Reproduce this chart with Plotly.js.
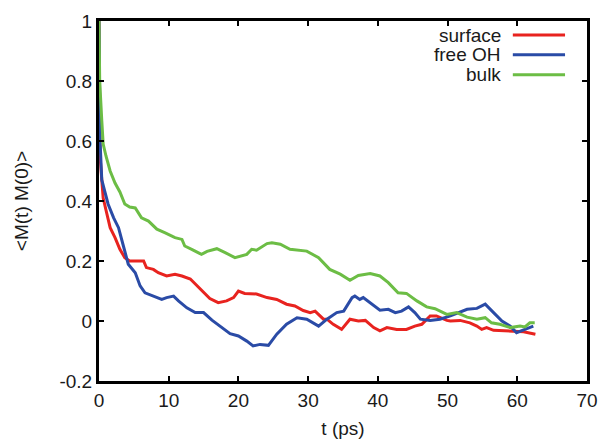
<!DOCTYPE html>
<html>
<head>
<meta charset="utf-8">
<script src="https://cdn.plot.ly/plotly-3.0.1.min.js"></script>
<style>html,body{margin:0;padding:0;background:#fff;}#chart{width:600px;height:439px;}</style>
</head>
<body>
<div id="chart"></div>
<script>
// ---- data ----
const seriesNames = ["surface", "free OH", "bulk"];
const seriesColors = ["#e8231f", "#2a4ba6", "#6cbd45"];

const tSurface = [0, 0.15, 0.4, 0.6, 1.0, 1.6, 2.3, 3.0, 3.7, 4.4, 5.4, 6.4, 6.8, 7.8, 8.5, 9.7, 10.9, 11.9, 13.1, 14.2, 15.2, 15.9, 17.1, 18.3, 19.3, 20.0, 20.9, 22.6, 24.1, 25.5, 26.9, 28.1, 29.3, 30.3, 31.0, 32.2, 32.7, 33.6, 34.8, 36.0, 37.2, 38.2, 39.4, 40.3, 41.3, 42.7, 44.1, 45.3, 46.3, 47.5, 48.4, 49.9, 50.4, 51.8, 53.2, 54.2, 54.9, 55.6, 56.6, 58.5, 59.7, 60.9, 62.6];
const surface  = [1, 0.55, 0.47, 0.41, 0.37, 0.311, 0.278, 0.239, 0.211, 0.2, 0.2, 0.2, 0.178, 0.172, 0.161, 0.15, 0.156, 0.15, 0.14, 0.115, 0.09, 0.075, 0.061, 0.067, 0.078, 0.1, 0.092, 0.09, 0.078, 0.072, 0.056, 0.05, 0.035, 0.028, 0.033, 0.006, 0.006, -0.011, -0.028, 0.006, 0, 0.002, -0.022, -0.033, -0.022, -0.028, -0.028, -0.017, -0.011, 0.017, 0.017, 0.002, 0, 0.002, -0.006, -0.017, -0.028, -0.022, -0.031, -0.033, -0.033, -0.036, -0.044];

const tFreeOH = [0, 0.15, 0.4, 0.9, 1.3, 2.1, 2.8, 3.5, 4.2, 5.2, 5.9, 6.6, 7.8, 9.0, 9.7, 10.7, 11.4, 12.6, 13.8, 15.0, 16.2, 17.6, 18.8, 20.0, 21.2, 22.1, 23.1, 24.3, 25.5, 26.9, 28.4, 29.8, 31.5, 32.7, 34.1, 35.1, 36.3, 36.7, 37.4, 37.9, 39.1, 40.3, 41.5, 42.5, 43.4, 44.4, 45.3, 46.1, 47.5, 48.9, 50.4, 51.5, 52.8, 54.2, 55.4, 56.6, 57.8, 59.0, 59.9, 61.1, 62.3];
const freeOH  = [1, 0.6, 0.47, 0.43, 0.39, 0.344, 0.311, 0.25, 0.189, 0.161, 0.117, 0.094, 0.083, 0.072, 0.078, 0.083, 0.067, 0.044, 0.028, 0.028, 0.003, -0.02, -0.042, -0.05, -0.067, -0.083, -0.078, -0.081, -0.044, -0.011, 0.011, 0.006, -0.017, 0.006, 0.028, 0.033, 0.078, 0.083, 0.072, 0.078, 0.056, 0.036, 0.039, 0.028, 0.033, 0.047, 0.028, 0.006, 0.002, 0.006, 0.017, 0.028, 0.039, 0.042, 0.056, 0.028, 0, -0.017, -0.039, -0.028, -0.017];

const tBulk = [0, 0.1, 0.4, 0.6, 1.0, 1.6, 2.3, 3.0, 3.7, 4.4, 5.2, 6.1, 7.1, 8.3, 9.5, 10.9, 11.9, 12.3, 13.3, 14.7, 15.5, 16.9, 18.1, 19.5, 21.2, 21.9, 22.6, 24.1, 24.8, 26.0, 27.4, 29.8, 31.5, 32.4, 33.1, 34.6, 36.0, 37.2, 38.9, 40.3, 41.5, 42.9, 44.1, 45.6, 47.0, 48.2, 48.9, 49.9, 51.3, 52.8, 54.2, 55.4, 56.3, 57.5, 59.0, 60.4, 61.1, 61.8, 62.5];
const bulk  = [1, 0.8, 0.667, 0.59, 0.55, 0.5, 0.46, 0.43, 0.39, 0.38, 0.377, 0.344, 0.333, 0.306, 0.294, 0.278, 0.272, 0.25, 0.239, 0.222, 0.232, 0.241, 0.228, 0.211, 0.222, 0.239, 0.236, 0.258, 0.261, 0.256, 0.239, 0.233, 0.211, 0.189, 0.172, 0.156, 0.136, 0.152, 0.158, 0.15, 0.128, 0.094, 0.092, 0.067, 0.047, 0.041, 0.033, 0.022, 0.028, 0.013, 0.006, 0.011, -0.006, -0.011, -0.022, -0.017, -0.02, -0.006, -0.006];

const xTicks = [0, 10, 20, 30, 40, 50, 60, 70];
const yTicks = [-0.2, 0, 0.2, 0.4, 0.6, 0.8, 1];
const yTickText = ["-0.2", "0", "0.2", "0.4", "0.6", "0.8", "1"];

// ---- build figure ----
const xs = [tSurface, tFreeOH, tBulk];
const ys = [surface, freeOH, bulk];
const traces = xs.map((x, i) => ({
  x: x, y: ys[i], type: "scatter", mode: "lines", name: seriesNames[i],
  line: {color: seriesColors[i], width: 3}, showlegend: false
}));

const font = {family: "Liberation Sans, Arial, sans-serif", size: 19, color: "#1a1a1a"};

// legend drawn gnuplot-style: text right-aligned, sample line to its right
const legY = [0.961, 0.906, 0.851];
const annotations = seriesNames.map((n, i) => ({
  xref: "paper", yref: "paper", x: 0.828, y: legY[i], xanchor: "right", yanchor: "middle",
  text: n, showarrow: false, font: font
}));
const shapes = seriesNames.map((n, i) => ({
  type: "line", xref: "paper", yref: "paper", x0: 0.848, x1: 0.955, y0: legY[i], y1: legY[i],
  line: {color: seriesColors[i], width: 3}
}));

const axisCommon = {
  showline: true, linecolor: "#000", linewidth: 3, mirror: "ticks",
  ticks: "inside", ticklen: 5, tickwidth: 2, tickcolor: "#000",
  showgrid: false, zeroline: false, tickfont: font
};

const layout = {
  width: 600, height: 439,
  margin: {l: 99, r: 13, t: 21, b: 58},
  paper_bgcolor: "#fff", plot_bgcolor: "#fff",
  font: font,
  xaxis: Object.assign({}, axisCommon, {
    range: [0, 70], tickvals: xTicks, ticktext: xTicks.map(String),
    title: {text: "t (ps)", font: font, standoff: 12}
  }),
  yaxis: Object.assign({}, axisCommon, {
    range: [-0.2, 1], tickvals: yTicks, ticktext: yTickText,
    title: {text: "&lt;M(t) M(0)&gt;", font: font, standoff: 26}
  }),
  annotations: annotations,
  shapes: shapes
};

Plotly.newPlot("chart", traces, layout, {displayModeBar: false, staticPlot: true});
</script>
</body>
</html>
